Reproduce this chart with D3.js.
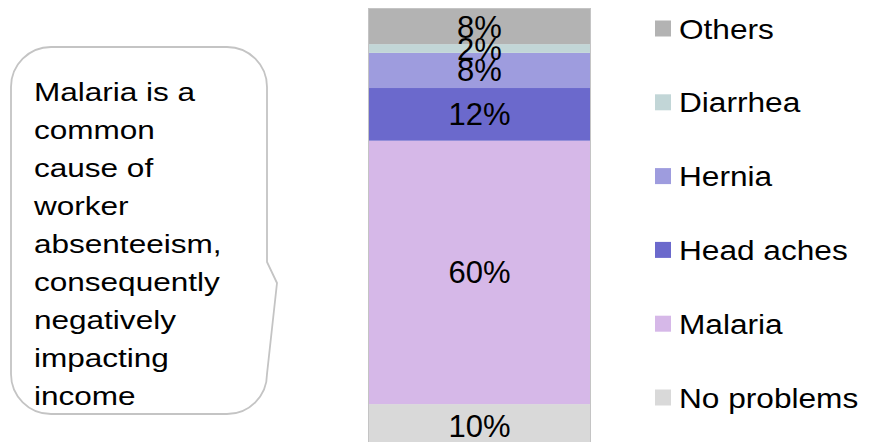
<!DOCTYPE html>
<html>
<head>
<meta charset="utf-8">
<script src="https://cdn.jsdelivr.net/npm/d3@7"></script>
<style>
  html, body { margin: 0; padding: 0; background: #fff; }
  svg { display: block; font-family: "Liberation Sans", Arial, sans-serif; }
</style>
</head>
<body>
<svg id="chart" width="871" height="442"></svg>
<script>
// Share of workers by health problem (stacked bottom to top)
const categories = ["No problems", "Malaria", "Head aches", "Hernia", "Diarrhea", "Others"];
const values = [10, 60, 12, 8, 2, 8];
const colors = ["#d9d9d9", "#d6b8e8", "#6b69cc", "#9e9cde", "#c2d6d7", "#b3b3b3"];
const calloutLines = ["Malaria is a", "common", "cause of", "worker", "absenteeism,",
  "consequently", "negatively", "impacting", "income"];

const svg = d3.select("#chart");

// Stacked bar
const y = d3.scaleLinear().domain([0, 100]).range([448, 9]);
const x = d3.scaleBand().domain(["all"]).range([369, 590]).padding(0);

const stacked = d3.stack().keys(categories)([
  Object.fromEntries(categories.map((c, i) => [c, values[i]]))
]);
const segs = stacked.map((s, i) => ({
  key: s.key, value: values[i], y0: s[0][0], y1: s[0][1], color: colors[i]
}));

const bar = svg.append("g");
bar.selectAll("rect.seg").data(segs).join("rect")
  .attr("class", "seg")
  .attr("x", x("all"))
  .attr("width", x.bandwidth())
  .attr("y", d => y(d.y1))
  .attr("height", d => y(d.y0) - y(d.y1))
  .attr("fill", d => d.color);

bar.append("rect")
  .attr("x", x("all") - 0.5)
  .attr("y", y(100) - 0.5)
  .attr("width", x.bandwidth() + 1)
  .attr("height", y(0) - y(100) + 1)
  .attr("fill", "none")
  .attr("stroke", "#c4c4c4")
  .attr("stroke-width", 1);

bar.selectAll("text.lbl").data(segs).join("text")
  .attr("class", "lbl")
  .attr("x", x("all") + x.bandwidth() / 2)
  .attr("y", d => (y(d.y0) + y(d.y1)) / 2 + 11)
  .attr("text-anchor", "middle")
  .attr("font-size", 31)
  .attr("fill", "#000")
  .text(d => d.value + "%");

// Legend (top entry = top segment)
const legendItems = segs.slice().reverse();
const ly = d3.scalePoint().domain(legendItems.map(d => d.key)).range([28.5, 397.5]);
const legend = svg.append("g");
const li = legend.selectAll("g").data(legendItems).join("g")
  .attr("transform", d => `translate(655,${ly(d.key)})`);
li.append("rect")
  .attr("x", 0).attr("y", -8).attr("width", 16).attr("height", 16)
  .attr("fill", d => d.color);
li.append("text")
  .attr("transform", "translate(24,10) scale(1.15,1)")
  .attr("font-size", 27.5)
  .attr("fill", "#000")
  .text(d => d.key);

// Rounded callout pointing right toward the bar
const L = 11, R = 267, T = 47, B = 414, r = 40;
const p = d3.path();
p.moveTo(L + r, T);
p.lineTo(R - r, T);
p.arcTo(R, T, R, T + r, r);
p.lineTo(R, 262);
p.lineTo(277, 283);
p.lineTo(R, B - r);
p.arcTo(R, B, R - r, B, r);
p.lineTo(L + r, B);
p.arcTo(L, B, L, B - r, r);
p.lineTo(L, T + r);
p.arcTo(L, T, L + r, T, r);
p.closePath();
svg.append("path")
  .attr("d", p.toString())
  .attr("fill", "#fff")
  .attr("stroke", "#c4c4c4")
  .attr("stroke-width", 1.8);

const callout = svg.append("g").attr("transform", "translate(34,0)");
callout.selectAll("text").data(calloutLines).join("text")
  .attr("transform", (d, i) => `translate(0,${101 + i * 38}) scale(1.19,1)`)
  .attr("font-size", 26.5)
  .attr("fill", "#000")
  .text(d => d);
</script>
</body>
</html>
